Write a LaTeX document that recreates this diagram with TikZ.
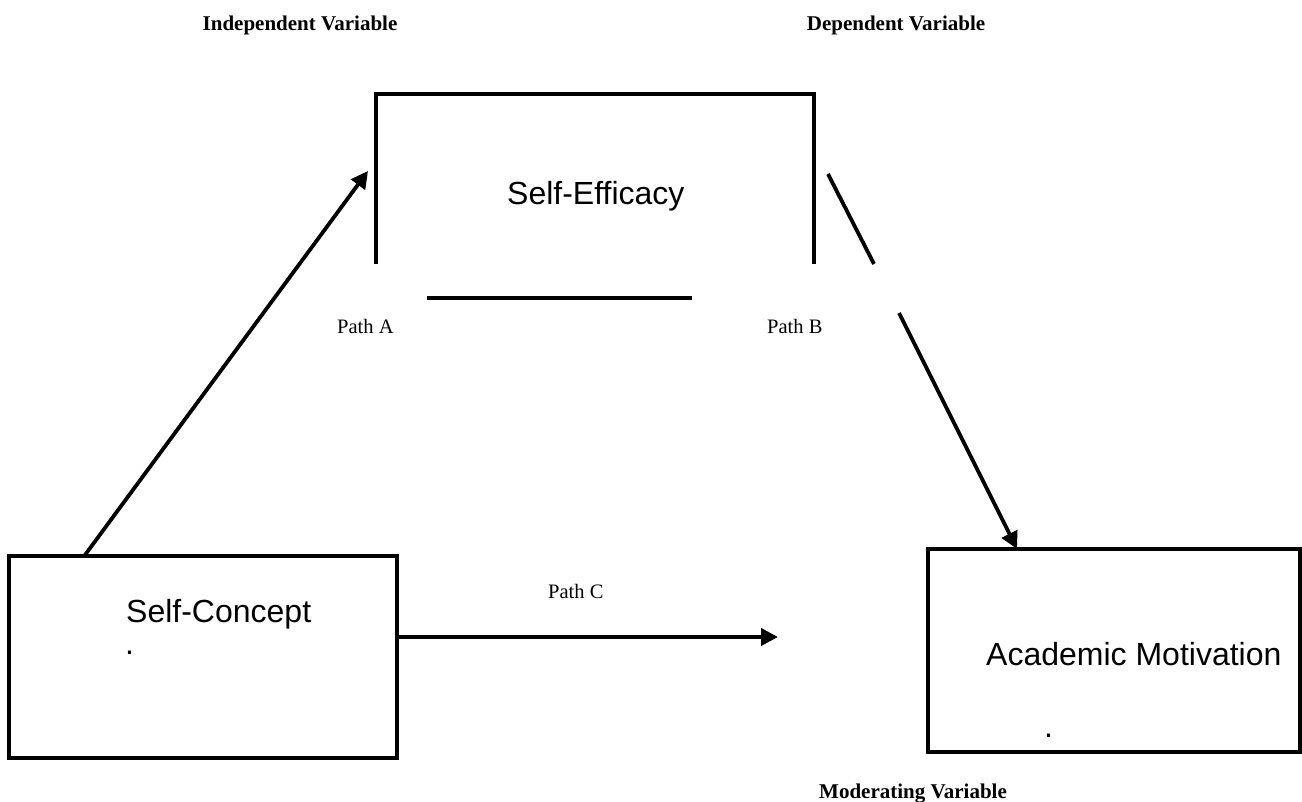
\documentclass[tikz,border=0pt]{standalone}
\usepackage{fontspec}
\setmainfont{Liberation Serif}
\newfontfamily\arialf{Liberation Sans}
\usetikzlibrary{arrows.meta}
\begin{document}
\begin{tikzpicture}[x=1pt,y=-1pt,
  box/.style={draw,line width=4pt,inner sep=0pt},
  edge/.style={line width=4pt},
  conn/.style={line width=3.8pt},
  arr/.style={conn,-{Triangle[length=17pt,width=17pt]}},
  big/.style={font=\arialf\fontsize{32}{38}\selectfont,anchor=base west,inner sep=0pt},
  small/.style={font=\fontsize{20.5}{24}\selectfont,anchor=base west,inner sep=0pt},
  title/.style={font=\bfseries\fontsize{21}{25}\selectfont,anchor=base,inner sep=0pt}]
\useasboundingbox[fill=white] (0,0) rectangle (1302,802);

% titles
\node[title] (tiv) at (300,31) {Independent Variable};
\node[title] (tdv) at (896,31) {Dependent Variable};
\node[title] (tmv) at (913,798) {Moderating Variable};

% boxes
\node[box,minimum width=387.5pt,minimum height=202pt] (sc) at (202.75,656.5) {};
\node[box,minimum width=372pt,minimum height=203pt] (am) at (1114,650.5) {};

% open Self-Efficacy frame
\coordinate (seBL) at (376,264);
\coordinate (seTL) at (376,94);
\coordinate (seTR) at (814,94);
\coordinate (seBR) at (814,264);
\draw[edge] (seBL) -- (seTL) -- (seTR) -- (seBR);
\coordinate (seB1) at (427,298);
\coordinate (seB2) at (692,298);
\draw[edge] (seB1) -- (seB2);

% texts
\node[big] (setext) at (507,205) {Self-Efficacy};
\node[big] (sctext) at (126,622) {Self-Concept};
\node[big] (scdot) at (125,654) {.};
\node[big] (amtext) at (986,665) {Academic Motivation};
\node[big] (amdot) at (1044,737) {.};
\node[small] (pa) at (337,334) {Path A};
\node[small] (pb) at (767,334) {Path B};
\node[small] (pc) at (548,598) {Path C};

% connectors
\coordinate (aS) at (85,555);
\coordinate (aE) at (368,171);
\draw[arr] (aS) -- (aE);

\coordinate (b1) at (828,174);
\coordinate (b2) at (874,264);
\coordinate (b3) at (899,313);
\coordinate (b4) at (1017,549);
\draw[conn] (b1) -- (b2);
\draw[arr] (b3) -- (b4);

\coordinate (cE) at (778,637);
\draw[arr] (sc.east |- cE) -- (cE);
\end{tikzpicture}
\end{document}
